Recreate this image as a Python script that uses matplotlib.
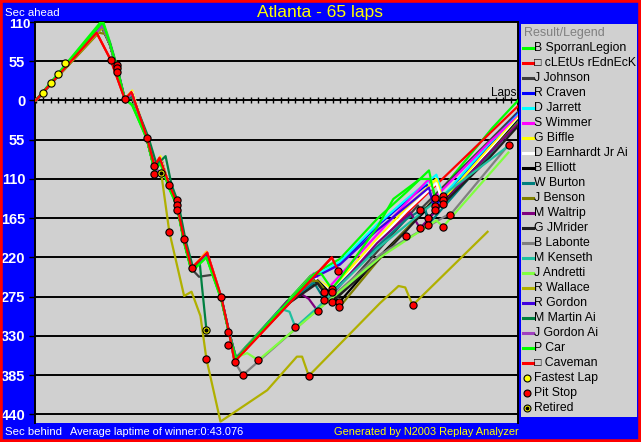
import matplotlib
matplotlib.use("Agg")
import matplotlib.pyplot as plt
from matplotlib.patches import Rectangle
from matplotlib.lines import Line2D

plt.rcParams['font.family'] = ['Liberation Sans', 'DejaVu Sans']

# ---------------- data ----------------
title = "Atlanta - 65 laps"
total_laps = 65
y_ticks = [110, 55, 0, -55, -110, -165, -220, -275, -330, -385, -440]

drivers = ["B SporranLegion", "\u25a1 cLEtUs rEdnEcK", "J Johnson", "R Craven", "D Jarrett",
           "S Wimmer", "G Biffle", "D Earnhardt Jr Ai", "B Elliott", "W Burton", "J Benson",
           "M Waltrip", "G JMrider", "B Labonte", "M Kenseth", "J Andretti", "R Wallace",
           "R Gordon", "M Martin Ai", "J Gordon Ai", "P Car", "\u25a1 Caveman"]

sporran_laps = [0, 9, 10, 11, 12, 13, 15, 16, 16.8, 18, 19, 20, 21, 23, 25, 26, 27, 34, 37, 41, 46, 50, 53, 53.8, 61.5, 65]
sporran_vals = [0, 113, 82, 46, 3, -7, -54, -97, -86, -122, -145, -198, -238, -218, -277, -323, -360, -280, -246, -222, -166, -128, -98, -136, -39, 0]

cletus_laps = [0, 8.2, 10.1, 12, 12.9, 15, 16, 16.7, 18, 18.9, 20, 21, 23.1, 25, 26, 26.8, 34.3, 39.9, 40.8, 41.7, 46.4, 50, 55, 61, 65]
cletus_vals = [0, 95, 57, 2, 12, -52, -92, -80, -118, -140, -194, -235, -213, -275, -322, -366, -283, -220, -239, -242, -195, -158, -108, -48, -8]

johnson_laps = [0, 8.8, 10, 11, 12, 13, 15, 16, 17, 18, 19, 20, 21, 22, 24, 25, 26, 27, 34, 37.5, 39.9, 46, 50, 51.5, 51.8, 61, 65]
johnson_vals = [0, 104, 78, 42, 1, 4, -55, -95, -84, -122, -143, -196, -236, -247, -244, -276, -322, -363, -284, -250, -283, -212, -165, -147, -153, -58, -16]

craven_laps = [0, 9, 10, 11, 12, 13, 15, 16, 16.8, 18, 19, 20, 21, 23, 25, 26, 27, 34, 37, 41, 46, 50, 52.7, 53.8, 61, 65]
craven_vals = [0, 107, 80, 44, 2, 9, -53, -96, -83, -121, -144, -197, -237, -215, -276, -322, -361, -283, -250, -228, -176, -140, -118, -148, -64, -18]

jarrett_laps = [0, 9, 10, 11, 12, 13, 15, 16, 16.8, 18, 19, 20, 21, 23, 25, 26, 27, 34, 37, 41, 46, 50, 54, 54.9, 61, 65]
jarrett_vals = [0, 108, 80, 45, 2, 10, -53, -96, -82, -121, -144, -197, -237, -214, -276, -322, -361, -282, -249, -226, -174, -138, -104, -134, -62, -20]

wimmer_laps = [0, 9, 10, 11, 12, 13, 15, 16, 16.8, 18, 19, 20, 21, 23, 25, 26, 27, 34, 37.5, 38.9, 46, 50, 53, 53.8, 61, 65]
wimmer_vals = [0, 106, 80, 44, 2, 12, -53, -95, -80, -120, -143, -196, -236, -212, -276, -322, -361, -282, -242, -269, -188, -143, -110, -136, -60, -22]

biffle_laps = [0, 9, 10, 11, 12, 13, 15, 16, 16.8, 18, 19, 20, 21, 23, 25, 26, 27, 34, 37.5, 39.9, 46, 50, 54, 54.9, 61, 65]
biffle_vals = [0, 105, 80, 44, 2, 14, -53, -95, -78, -120, -143, -196, -236, -212, -276, -322, -361, -283, -248, -264, -194, -150, -110, -140, -68, -24]

earnhardt_laps = [0, 9, 10, 11, 12, 13, 15, 16, 16.8, 18, 19, 20, 21, 23, 25, 26, 27, 34, 37.5, 39.9, 46, 50, 54, 54.9, 61, 65]
earnhardt_vals = [0, 107, 80, 44, 2, 12, -53, -96, -81, -121, -144, -197, -237, -214, -276, -322, -361, -282, -247, -269, -198, -155, -116, -145, -72, -26]

elliott_laps = [0, 9, 10, 11, 12, 13, 15, 16, 16.8, 18, 19, 20, 21, 23, 25, 26, 27, 34, 38, 40.9, 46, 50, 52.5, 52.9, 61, 65]
elliott_vals = [0, 104, 78, 43, 1, 6, -55, -96, -85, -122, -145, -197, -237, -218, -277, -323, -362, -285, -252, -283, -222, -180, -155, -165, -75, -28]

burton_laps = [0, 9, 10, 11, 12, 13, 15, 16, 16.8, 18, 19, 20, 21, 23, 25, 26, 27, 34, 37.5, 38.9, 46, 50, 52.5, 52.9, 61, 65]
burton_vals = [0, 105, 79, 43, 1, 7, -54, -96, -84, -122, -144, -197, -237, -216, -277, -323, -362, -284, -255, -279, -205, -166, -150, -174, -78, -30]

benson_laps = [0, 8.5, 9.5, 10, 11, 12, 13, 15, 16, 16.8, 18, 19, 20, 21, 23, 25, 26, 27, 34, 37, 38, 40.9, 46, 50, 54, 54.9, 61, 65]
benson_vals = [0, 95, 93, 78, 42, 1, 8, -55, -96, -84, -122, -144, -197, -237, -216, -277, -323, -362, -285, -253, -253, -290, -226, -180, -135, -145, -75, -31]

waltrip_laps = [0, 9, 10, 11, 12, 13, 15, 16, 16.8, 18, 19, 20, 21, 23, 25, 26, 27, 33.9, 35.9, 36.8, 38, 46, 50.5, 51.8, 61, 65]
waltrip_vals = [0, 105, 79, 43, 1, 8, -54, -96, -84, -122, -144, -197, -237, -216, -277, -323, -362, -281, -272, -278, -295, -200, -157, -179, -75, -33]

jmrider_laps = [0, 9, 10, 11, 12, 13, 15, 16, 16.8, 18, 19, 20, 21, 23, 25, 26, 27, 34, 38, 39.9, 46, 50, 54, 54.9, 61, 65]
jmrider_vals = [0, 103, 78, 42, 1, 5, -55, -96, -85, -122, -145, -198, -238, -218, -277, -323, -362, -285, -256, -283, -225, -182, -135, -145, -82, -36]

labonte_laps = [0, 9, 10, 11, 12, 13, 15, 16, 16.8, 18, 19, 20, 21, 23, 25, 26, 26.8, 27.9, 46.4, 55.4, 55.9, 63.5]
labonte_vals = [0, 104, 79, 43, 1, 6, -55, -96, -84, -122, -145, -197, -237, -217, -277, -323, -366, -385, -216, -161, -160, -65]

kenseth_laps = [0, 9, 10, 11, 12, 13, 15, 16, 16.8, 18, 19, 20, 21, 23, 25, 26, 27, 33, 34.2, 35, 38, 46, 55, 63.8]
kenseth_vals = [0, 104, 79, 43, 1, 6, -55, -96, -84, -122, -145, -197, -237, -217, -277, -323, -362, -292, -296, -318, -290, -208, -132, -63]

andretti_laps = [0, 9, 10, 11, 12, 13, 15, 16, 16.8, 18, 19, 20, 21, 23, 25, 26, 27, 28.5, 30, 46.4, 54, 54.9, 63.7]
andretti_vals = [0, 104, 79, 43, 1, 6, -55, -97, -86, -123, -146, -198, -238, -219, -278, -323, -360, -354, -364, -220, -168, -177, -73]

wallace_laps = [0, 9, 10, 11, 12, 13, 15, 16, 16.9, 18, 20, 21, 22.2, 23, 24.9, 31.2, 35.2, 35.9, 36.8, 46.4, 48.9, 49.8, 50.8, 60.9]
wallace_vals = [0, 102, 79, 43, 1, 10, -54, -95, -101, -184, -274, -268, -302, -362, -450, -406, -359, -359, -386, -284, -260, -262, -287, -184]

rgordon_laps = [0, 9, 10, 11, 12, 13, 15, 16, 16.8, 18, 19, 20, 21, 23, 25, 26, 27, 34, 37, 41, 46, 50, 53, 53.8]
rgordon_vals = [0, 106, 80, 44, 2, 9, -53, -96, -83, -121, -144, -197, -237, -215, -276, -322, -361, -283, -251, -230, -182, -148, -122, -154]

martin_laps = [0, 9, 10, 11, 12, 13, 15.2, 16.3, 17.5, 18.3, 19.2, 20.2, 21.2, 22.1, 22.4, 23]
martin_vals = [0, 106, 80, 44, 2, 6, -52, -90, -78, -118, -143, -196, -234, -227, -260, -321]

jgordon_laps = [0, 9, 10, 11, 12, 13, 15, 16, 16.9]
jgordon_vals = [0, 105, 79, 43, 1, 9, -53, -96, -101]

pcar_laps = [0, 9, 10, 11, 12, 13, 15, 16, 16.8, 18, 19, 20, 21, 23, 25, 26, 27, 34, 37.5, 38.5, 39.9, 41, 46, 48.2, 51.8, 53.2, 53.8]
pcar_vals = [0, 110, 80, 44, 2, -6, -55, -99, -88, -124, -147, -200, -240, -220, -279, -324, -362, -282, -243, -243, -264, -250, -178, -138, -110, -110, -136]

caveman_laps = [0, 8.2, 10.1, 12, 12.9, 15, 16, 16.7, 18, 18.9, 20, 21, 23.1, 25, 26, 26.8, 34.3, 39.9, 40.8]
caveman_vals = [0, 95, 57, 2, 12, -52, -92, -80, -118, -140, -194, -235, -213, -275, -322, -366, -283, -220, -239]

all_laps = [sporran_laps, cletus_laps, johnson_laps, craven_laps, jarrett_laps, wimmer_laps,
            biffle_laps, earnhardt_laps, elliott_laps, burton_laps, benson_laps, waltrip_laps,
            jmrider_laps, labonte_laps, kenseth_laps, andretti_laps, wallace_laps, rgordon_laps,
            martin_laps, jgordon_laps, pcar_laps, caveman_laps]
all_vals = [sporran_vals, cletus_vals, johnson_vals, craven_vals, jarrett_vals, wimmer_vals,
            biffle_vals, earnhardt_vals, elliott_vals, burton_vals, benson_vals, waltrip_vals,
            jmrider_vals, labonte_vals, kenseth_vals, andretti_vals, wallace_vals, rgordon_vals,
            martin_vals, jgordon_vals, pcar_vals, caveman_vals]

fast_laps = [1, 2, 3, 4]
fast_vals = [10, 25, 37, 52]

pit_laps = [10.1, 11.0, 11.0, 11.0, 12.0, 15.0, 16.0, 16.0, 18.0, 18.0, 19.0, 19.0, 19.0, 20.0, 21.0,
            23.0, 25.0, 25.9, 25.9, 26.8, 27.9, 30.0, 35.0, 36.8, 38.0, 38.9, 38.9, 39.9, 39.9, 39.9,
            40.8, 40.9, 40.9, 49.9, 50.8, 51.8, 51.8, 52.9, 52.9, 53.8, 53.8, 53.8, 54.9, 54.9, 54.9,
            54.9, 55.9, 63.8]
pit_vals = [57, 50, 45, 40, 2, -52, -92, -103, -118, -184, -140, -147, -154, -194, -235,
            -362, -276, -325, -342, -366, -385, -364, -318, -386, -295, -269, -279, -264, -269, -283,
            -239, -283, -290, -190, -287, -153, -179, -165, -174, -136, -148, -154, -134, -140, -145,
            -177, -160, -63]

retired_laps = [16.9, 23.0]
retired_vals = [-101, -321]

# ---------------- styles ----------------
colors = ["#00ff00", "#ff0000", "#404040", "#0000ff", "#00ffff", "#ff00ff", "#ffff00", "#ffffff",
          "#000000", "#008080", "#808000", "#800080", "#202020", "#808080", "#20c0a0", "#80ff40",
          "#b0b000", "#4000e0", "#008040", "#a040c0", "#00ff00", "#ff0000"]

W, H = 641, 442
BLUE = "#0000ff"
GRAY = "#d0d0d0"

def fx(px):
    return px / W

def fy(py):
    return 1 - py / H

fig = plt.figure(figsize=(W / 100, H / 100), dpi=100, facecolor=BLUE)

ax = fig.add_axes([fx(35), fy(423), (518 - 35) / W, (423 - 22) / H])
ax.set_facecolor(GRAY)
ax.set_xlim(-0.1, total_laps)
ax.set_ylim(-452, 110)

for t in y_ticks:
    if t not in (0, 110):
        ax.axhline(t, color="black", lw=1.4, zorder=1)

for laps, vals, c in zip(all_laps, all_vals, colors):
    ax.plot(laps, vals, color=c, lw=1.6, zorder=3, solid_joinstyle="round")

mk = dict(ls="none", marker="o", ms=5.2, mec="black", mew=0.8, zorder=5)
ax.plot(fast_laps, fast_vals, mfc="#ffff00", **mk)
ax.plot(pit_laps, pit_vals, mfc="#ff0000", **mk)
ax.plot(retired_laps, retired_vals, mfc="#ffff00", **mk)
ax.plot(retired_laps, retired_vals, ls="none", marker="o", ms=2, mfc="black", mec="black", zorder=6)

ax.spines['bottom'].set_position(('data', 0))
for s in ['left', 'right', 'top', 'bottom']:
    ax.spines[s].set_color('black')
    ax.spines[s].set_linewidth(1.4)
ax.set_xticks(range(0, total_laps + 1))
ax.tick_params(axis='x', direction='inout', length=5, width=1, color='black', labelbottom=False)
ax.set_yticks(y_ticks)
# the top label sits partly under the header band in the reference; drawn separately below
ax.set_yticklabels(["" if t == y_ticks[0] else str(abs(t)) for t in y_ticks],
                   color='white', fontweight='bold', fontsize=10.5)
ax.tick_params(axis='y', length=4, width=1, color='black', pad=3)
fig.text(fx(31), fy(25.5), str(y_ticks[0]), ha='right', va='center', color='white',
         fontweight='bold', fontsize=9.5)
ax.text(total_laps - 0.2, 1.5, "Laps", ha='right', va='bottom', fontsize=8.5, color='black', zorder=7)

# title & footer
fig.text(fx(320), fy(12), title, ha='center', va='center', color='#ffff00', fontsize=12.5)
fig.text(fx(5), fy(13), "Sec ahead", ha='left', va='center', color='white', fontsize=8.2)
fig.text(fx(5), fy(432), "Sec behind", ha='left', va='center', color='white', fontsize=8.2)
fig.text(fx(70), fy(432), "Average laptime of winner:0:43.076", ha='left', va='center', color='white', fontsize=7.9)
fig.text(fx(519), fy(432), "Generated by N2003 Replay Analyzer", ha='right', va='center', color='#ffff00', fontsize=7.9)

# legend panel
fig.patches.append(Rectangle((fx(521), fy(417)), (637 - 521) / W, (417 - 24) / H,
                             transform=fig.transFigure, facecolor=GRAY, edgecolor='none', zorder=0))
fig.text(fx(524), fy(32.7), "Result/Legend", ha='left', va='center', color='#808080', fontsize=9)
row0, step = 47.7, 15.0
for i, (name, c) in enumerate(zip(drivers, colors)):
    y = row0 + i * step
    fig.lines.append(Line2D([fx(523), fx(533)], [fy(y), fy(y)], color=c, lw=2.2,
                            transform=fig.transFigure))
    fig.text(fx(534), fy(y), name, ha='left', va='center', color='black', fontsize=8.8)
extra = [("Fastest Lap", "#ffff00", False), ("Pit Stop", "#ff0000", False), ("Retired", "#ffff00", True)]
for j, (name, fc, dot) in enumerate(extra):
    y = row0 + (len(drivers) + j) * step
    fig.lines.append(Line2D([fx(527)], [fy(y)], ls='none', marker='o', ms=5, mfc=fc, mec='black',
                            mew=0.8, transform=fig.transFigure))
    if dot:
        fig.lines.append(Line2D([fx(527)], [fy(y)], ls='none', marker='o', ms=1.8, mfc='black',
                                mec='black', transform=fig.transFigure))
    fig.text(fx(534), fy(y), name, ha='left', va='center', color='black', fontsize=8.8)

# outer red border
fig.patches.append(Rectangle((0, 0), 1, 1, transform=fig.transFigure, fill=False,
                             edgecolor='#ff0000', lw=4, zorder=10))

fig.savefig("out.png", dpi=100, facecolor=BLUE)
